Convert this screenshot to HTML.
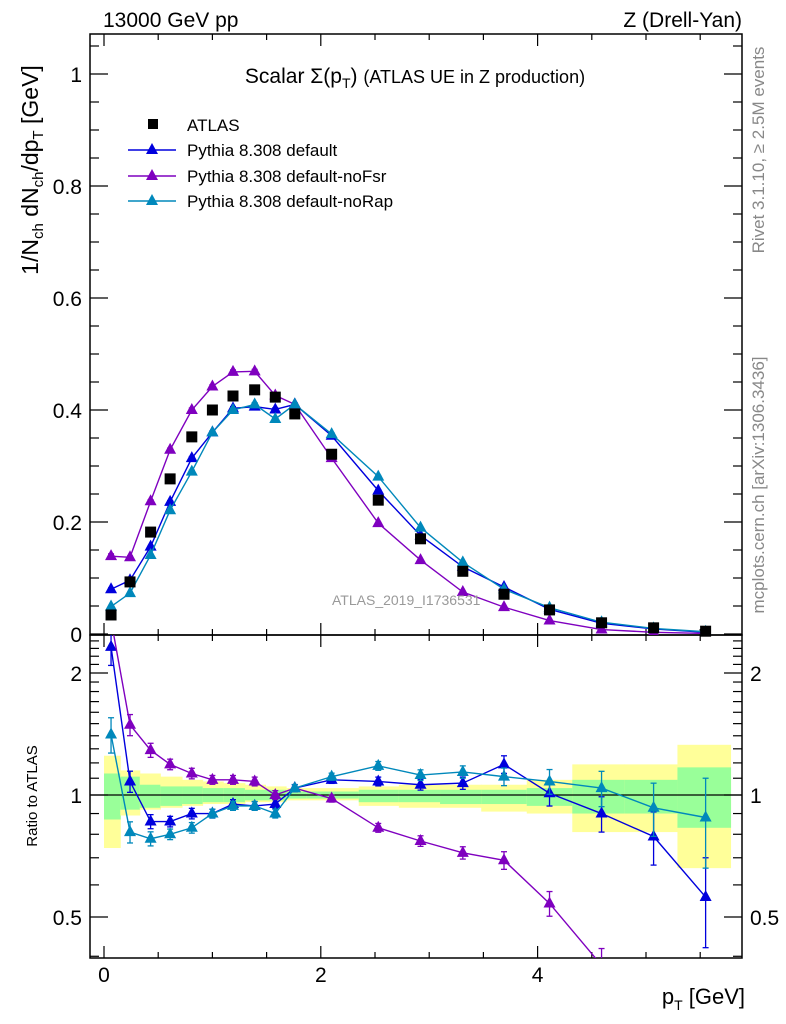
<!DOCTYPE html>
<html><head><meta charset="utf-8"><style>
html,body{margin:0;padding:0;background:#fff;width:786px;height:1024px;overflow:hidden;}
svg{display:block;font-family:"Liberation Sans",sans-serif;}
</style></head><body>
<svg id="c" width="786" height="1024" viewBox="0 0 786 1024" xmlns="http://www.w3.org/2000/svg"></svg>
<script>
const xVals=[0.065,0.24,0.43,0.61,0.81,1.0,1.19,1.39,1.58,1.76,2.1,2.53,2.92,3.31,3.69,4.11,4.59,5.07,5.55];
const binEdges=[0,0.15,0.33,0.52,0.72,0.91,1.1,1.3,1.49,1.68,1.87,2.35,2.72,3.1,3.48,3.9,4.32,4.8,5.29,5.78];
const atlasVals=[0.034,0.093,0.182,0.277,0.352,0.40,0.425,0.436,0.423,0.393,0.321,0.239,0.17,0.112,0.071,0.043,0.02,0.011,0.005];
const defaultVals=[0.080,0.096,0.156,0.236,0.314,0.36,0.403,0.406,0.401,0.41,0.354,0.256,0.176,0.12,0.084,0.044,0.019,0.009,0.003];
const noFsrVals=[0.139,0.137,0.237,0.329,0.40,0.442,0.468,0.469,0.426,0.41,0.314,0.198,0.132,0.075,0.048,0.024,0.008,0.003,0.001];
const noRapVals=[0.049,0.073,0.141,0.221,0.29,0.36,0.40,0.41,0.384,0.41,0.357,0.281,0.19,0.128,0.08,0.047,0.021,0.01,0.004];
const defaultRatio=[2.32,1.08,0.86,0.86,0.90,0.90,0.95,0.94,0.95,1.04,1.09,1.08,1.06,1.07,1.19,1.01,0.90,0.79,0.56];
const noFsrRatio=[4.0,1.49,1.29,1.19,1.13,1.09,1.09,1.08,1.0,1.04,0.98,0.83,0.77,0.72,0.69,0.54,0.38,0.32,0.3];
const noRapRatio=[1.41,0.81,0.78,0.80,0.83,0.90,0.94,0.94,0.90,1.04,1.11,1.18,1.12,1.14,1.11,1.08,1.04,0.93,0.88];
const relErr=[0.1,0.06,0.04,0.03,0.03,0.025,0.025,0.025,0.025,0.02,0.02,0.025,0.03,0.035,0.05,0.07,0.1,0.15,0.25];
const yellowUp=[1.25,1.15,1.13,1.11,1.09,1.08,1.07,1.06,1.05,1.04,1.04,1.05,1.06,1.06,1.06,1.09,1.19,1.19,1.33];
const yellowDn=[0.74,0.89,0.92,0.93,0.94,0.95,0.95,0.96,0.96,0.97,0.97,0.94,0.93,0.93,0.91,0.90,0.81,0.81,0.66];
const greenUp=[1.13,1.11,1.06,1.05,1.05,1.04,1.04,1.03,1.03,1.02,1.02,1.03,1.03,1.03,1.03,1.04,1.09,1.09,1.17];
const greenDn=[0.87,0.92,0.93,0.94,0.95,0.96,0.96,0.97,0.97,0.98,0.98,0.96,0.96,0.95,0.95,0.94,0.90,0.90,0.83];
const mainTicks=["0","0.2","0.4","0.6","0.8","1"];
const ratioTicks=[0.5,1,2];
const xTickLabels=["0","2","4"];

const NS="http://www.w3.org/2000/svg";
const svg=document.getElementById('c');
const L=90,R=742,T=34,M=635,B=958;
const X=v=>104+v*108.4;
const Y=v=>Math.max(T-10,Math.min(M+10,634-v*560));
const YR=r=>Math.max(M-15,Math.min(B+15,795-122*Math.log2(r)));
function el(tag,at,parent){const e=document.createElementNS(NS,tag);for(const k in at)e.setAttribute(k,at[k]);(parent||svg).appendChild(e);return e;}
function txt(s,at,parent){const e=el('text',at,parent);e.textContent=s;return e;}

const defs=el('defs',{});
const c1=el('clipPath',{id:'cm'},defs);el('rect',{x:L,y:T,width:R-L,height:M-T},c1);
const c2=el('clipPath',{id:'cr'},defs);el('rect',{x:L,y:M,width:R-L,height:B-M},c2);

const bands=el('g',{'clip-path':'url(#cr)'});


for(let i=0;i<yellowUp.length;i++){
  const y=el('rect',{x:X(binEdges[i]),y:YR(yellowUp[i]),width:X(binEdges[i+1])-X(binEdges[i])+0.5,height:YR(yellowDn[i])-YR(yellowUp[i]),fill:'#ffff99'},bands);
  
  
  const g=el('rect',{x:X(binEdges[i]),y:YR(greenUp[i]),width:X(binEdges[i+1])-X(binEdges[i])+0.5,height:YR(greenDn[i])-YR(greenUp[i]),fill:'#99ff99'},bands);
  
  
}
el('line',{x1:L,x2:R,y1:YR(1),y2:YR(1),stroke:'#000','stroke-width':1.2});

el('rect',{x:L,y:T,width:R-L,height:M-T,fill:'none',stroke:'#000','stroke-width':1.5});
el('rect',{x:L,y:M,width:R-L,height:B-M,fill:'none',stroke:'#000','stroke-width':1.5});

for(let v=0;v<=5.5;v+=0.5){
  const major=(v%2===0);const len=major?12:6;
  for(const [y0,d] of [[T,1],[M,-1],[M,1],[B,-1]]){
    el('line',{x1:X(v),x2:X(v),y1:y0,y2:y0+d*len,stroke:'#000','stroke-width':1.2});
  }
}
xTickLabels.forEach((s,i)=>{const t=txt(s,{x:X(i*2),y:982,'font-size':21,'text-anchor':'middle'});});
for(let k=0;k<=21;k++){const v=k*0.05;const major=(k%4===0);const len=major?18:9;
  el('line',{x1:L,x2:L+len,y1:Y(v),y2:Y(v),stroke:'#000','stroke-width':1.2});
  el('line',{x1:R,x2:R-len,y1:Y(v),y2:Y(v),stroke:'#000','stroke-width':1.2});}
mainTicks.forEach((s,i)=>{const t=txt(s,{x:82,y:Y(i*0.2)+8,'font-size':21,'text-anchor':'end'});});
const minors=[0.4,0.5,0.6,0.7,0.8,0.9,1,1.1,1.2,1.3,1.4,1.5,1.6,1.7,1.8,1.9,2,2.1,2.2,2.3,2.4];
minors.forEach(v=>{const major=ratioTicks.includes(v);const len=major?18:9;
  el('line',{x1:L,x2:L+len,y1:YR(v),y2:YR(v),stroke:'#000','stroke-width':1.2});
  el('line',{x1:R,x2:R-len,y1:YR(v),y2:YR(v),stroke:'#000','stroke-width':1.2});});
ratioTicks.forEach(v=>{
  const a=txt(String(v),{x:82,y:YR(v)+8,'font-size':21,'text-anchor':'end'});
  const b=txt(String(v),{x:750,y:YR(v)+8,'font-size':21});
});

const series=[
 {name:'default',vals:defaultVals,ratio:defaultRatio,col:'#0000dd'},
 {name:'noFsr',vals:noFsrVals,ratio:noFsrRatio,col:'#7f00bf'},
 {name:'noRap',vals:noRapVals,ratio:noRapRatio,col:'#0088bb'}];
function tri(g,x,y,col){el('path',{d:`M${x},${y-7}L${x+6},${y+4}L${x-6},${y+4}Z`,fill:col},g);}
function drawSeries(s,arr,Yf,clip,err){
  const g=el('g',{'clip-path':clip});
  
  
  el('polyline',{points:arr.map((v,i)=>X(xVals[i])+','+Yf(v)).join(' '),fill:'none',stroke:s.col,'stroke-width':1.4},g);
  arr.forEach((v,i)=>{const x=X(xVals[i]);const e=err(v,i);
    el('line',{x1:x,x2:x,y1:Yf(e[0]),y2:Yf(e[1]),stroke:s.col,'stroke-width':1.3},g);
    el('line',{x1:x-3,x2:x+3,y1:Yf(e[0]),y2:Yf(e[0]),stroke:s.col,'stroke-width':1.3},g);
    el('line',{x1:x-3,x2:x+3,y1:Yf(e[1]),y2:Yf(e[1]),stroke:s.col,'stroke-width':1.3},g);
    tri(g,x,Yf(v),s.col);});
}
series.forEach(s=>{
  drawSeries(s,s.vals,Y,'url(#cm)',(v,i)=>[v*(1-relErr[i]*0.3),v*(1+relErr[i]*0.3)]);
  drawSeries(s,s.ratio,YR,'url(#cr)',(v,i)=>[v*(1-relErr[i]),v*(1+relErr[i])]);
});
const dg=el('g',{});


atlasVals.forEach((v,i)=>{el('rect',{x:X(xVals[i])-5.5,y:Y(v)-5.5,width:11,height:11,fill:'#000'},dg);});

const lg=el('g',{});


el('rect',{x:148,y:119,width:10,height:10,fill:'#000'},lg);
txt('ATLAS',{x:187,y:131,'font-size':17},lg);
[['Pythia 8.308 default','#0000dd',150],['Pythia 8.308 default-noFsr','#7f00bf',176],['Pythia 8.308 default-noRap','#0088bb',201]].forEach(([s,c,y])=>{
  el('line',{x1:128,x2:176,y1:y,y2:y,stroke:c,'stroke-width':1.4},lg);
  tri(lg,152,y,c);
  txt(s,{x:187,y:y+6,'font-size':17},lg);
});

const t1=txt('13000 GeV pp',{x:103,y:27,'font-size':21});
const t2=txt('Z (Drell-Yan)',{x:742,y:27,'font-size':21,'text-anchor':'end'});
const t3=el('text',{x:415,y:83,'font-size':21,'text-anchor':'middle'});
t3.innerHTML='Scalar Σ(p<tspan font-size="14" dy="5">T</tspan><tspan dy="-5">) </tspan><tspan font-size="18">(ATLAS UE in Z production)</tspan>';
const t4=txt('ATLAS_2019_I1736531',{x:332,y:605,'font-size':14,fill:'#999'});
const t5=txt('Rivet 3.1.10, ≥ 2.5M events',{x:0,y:0,'font-size':17,fill:'#888','text-anchor':'middle',transform:'translate(764,150) rotate(-90)'});
const t6=txt('mcplots.cern.ch [arXiv:1306.3436]',{x:0,y:0,'font-size':17,fill:'#888','text-anchor':'middle',transform:'translate(764,485) rotate(-90)'});
const t7=el('text',{x:0,y:0,'font-size':23,'text-anchor':'middle',transform:'translate(38,170) rotate(-90)'});
t7.innerHTML='1/N<tspan font-size="15" dy="5">ch</tspan><tspan dy="-5"> dN</tspan><tspan font-size="15" dy="5">ch</tspan><tspan dy="-5">/dp</tspan><tspan font-size="15" dy="5">T</tspan><tspan dy="-5"> [GeV]</tspan>';
const t8=txt('Ratio to ATLAS',{x:0,y:0,'font-size':15,'text-anchor':'middle',transform:'translate(37,796) rotate(-90)'});
const t9=el('text',{x:745,y:1004,'font-size':22,'text-anchor':'end'});
t9.innerHTML='p<tspan font-size="14" dy="6">T</tspan><tspan dy="-6"> [GeV]</tspan>';
</script>
</body></html>
